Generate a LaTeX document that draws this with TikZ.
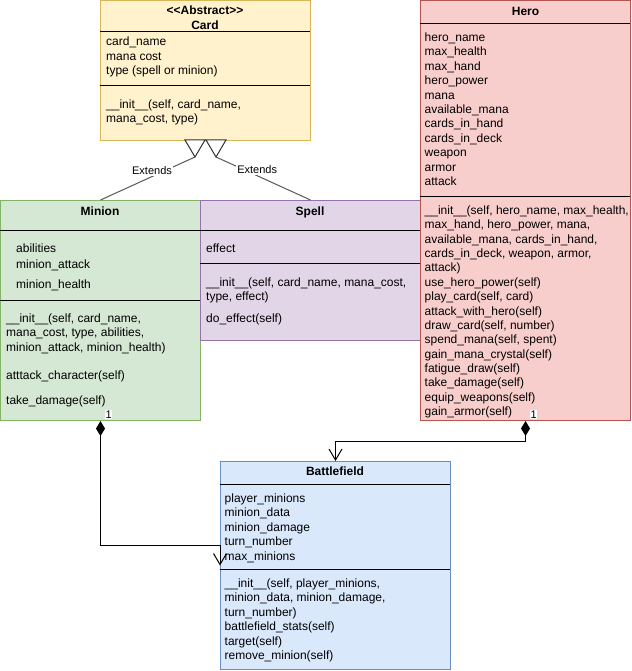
\documentclass[tikz,border=0pt]{standalone}
\usepackage{fontspec}
\setmainfont{Liberation Sans}
\usetikzlibrary{arrows.meta}
\definecolor{cardF}{HTML}{FFF2CC}\definecolor{cardD}{HTML}{D6B656}
\definecolor{minF}{HTML}{D5E8D4}\definecolor{minD}{HTML}{82B366}
\definecolor{spF}{HTML}{E1D5E7}\definecolor{spD}{HTML}{9673A6}
\definecolor{heroF}{HTML}{F8CECC}\definecolor{heroD}{HTML}{B85450}
\definecolor{bfF}{HTML}{DAE8FC}\definecolor{bfD}{HTML}{6C8EBF}
\definecolor{inhC}{HTML}{595959}
\newcommand\tlines[4]{\foreach \t [count=\i from 0] in {#4} {\node[txt] at (#1,{#2+\i*#3}) {\t};}}
\begin{document}
\begin{tikzpicture}[x=1pt,y=-1pt,
  box/.style={draw, line width=1pt, rectangle, anchor=north west, inner sep=0pt},
  div/.style={draw=black, line width=1pt},
  txt/.style={anchor=base west, inner sep=0pt, font=\fontsize{12}{14.4}\selectfont},
  ttl/.style={anchor=base, inner sep=0pt, font=\fontsize{12}{14.4}\selectfont\bfseries},
  lbl/.style={fill=white, inner sep=1pt, font=\fontsize{11}{13}\selectfont},
  one/.style={fill=white, inner sep=0.5pt, font=\fontsize{11}{13}\selectfont, anchor=south west, xshift=4pt, yshift=2pt},
  inh/.style={draw=inhC, line width=1pt},
  inhtri/.style={draw=black!80, fill=white, line width=1pt, line join=miter},
  comp/.style={draw=black, line width=1pt, {Diamond[length=15pt,width=9pt]}-{Straight Barb[length=11pt,width=13pt]}}
]
\useasboundingbox (0,0) rectangle (631,671);
\fill[white] (0,0) rectangle (631,671);

% boxes
\node[box, fill=cardF, draw=cardD, minimum width=210pt, minimum height=140pt] (card) at (100,0) {};
\node[box, fill=minF, draw=minD, minimum width=200pt, minimum height=220pt] (minion) at (0,200) {};
\node[box, fill=spF, draw=spD, minimum width=220pt, minimum height=140pt] (spell) at (200,200) {};
\node[box, fill=heroF, draw=heroD, minimum width=210pt, minimum height=420pt] (hero) at (420,0) {};
\node[box, fill=bfF, draw=bfD, minimum width=230pt, minimum height=208pt] (bf) at (220,461) {};

% dividers
\draw[div] (100,32) -- (310,32);
\draw[div] (100,86) -- (310,86);
\draw[div] (0,230) -- (200,230);
\draw[div] (0,300) -- (200,300);
\draw[div] (200,230) -- (420,230);
\draw[div] (200,263) -- (420,263);
\draw[div] (420,24) -- (630,24);
\draw[div] (420,196) -- (630,196);
\draw[div] (220,484) -- (450,484);
\draw[div] (220,569) -- (450,569);

% Card
\node[ttl] at (205,15) {\mbox{<}\mbox{<}Abstract\mbox{>}\mbox{>}};
\node[ttl] at (205,30) {Card};
\tlines{106}{46}{14.4}{card\_name, mana cost, type (spell or minion)}
\tlines{106}{108.5}{14.4}{{\_\_init\_\_(self, card\_name,}, {mana\_cost, type)}}

% Minion
\node[ttl] at (100,215) {Minion};
\node[txt] at (16,252) {abilities};
\node[txt] at (16,268.5) {minion\_attack};
\node[txt] at (16,288.5) {minion\_health};
\tlines{6}{322.5}{14.4}{{\_\_init\_\_(self, card\_name,}, {mana\_cost, type, abilities,}, {minion\_attack, minion\_health)}}
\node[txt] at (6,379.5) {atttack\_character(self)};
\node[txt] at (6,404.5) {take\_damage(self)};

% Spell
\node[ttl] at (310,215) {Spell};
\node[txt] at (206,252) {effect};
\tlines{206}{286}{14.4}{{\_\_init\_\_(self, card\_name, mana\_cost,}, {type, effect)}}
\node[txt] at (206,322.5) {do\_effect(self)};

% Hero
\node[ttl] at (525.5,15.5) {Hero};
\tlines{424.5}{41.5}{14.4}{hero\_name, max\_health, max\_hand, hero\_power, mana, available\_mana, cards\_in\_hand, cards\_in\_deck, weapon, armor, attack}
\tlines{424.5}{214.5}{14.36}{{\_\_init\_\_(self, hero\_name, max\_health,}, {max\_hand, hero\_power, mana,}, {available\_mana, cards\_in\_hand,}, {cards\_in\_deck, weapon, armor,}, attack), use\_hero\_power(self), {play\_card(self, card)}, attack\_with\_hero(self), {draw\_card(self, number)}, {spend\_mana(self, spent)}, gain\_mana\_crystal(self), fatigue\_draw(self), take\_damage(self), equip\_weapons(self), gain\_armor(self)}

% Battlefield
\node[ttl] at (335,475) {Battlefield};
\tlines{224.5}{502.5}{14.4}{player\_minions, minion\_data, minion\_damage, turn\_number, max\_minions}
\tlines{224.5}{587.5}{14.4}{{\_\_init\_\_(self, player\_minions,}, {minion\_data, minion\_damage,}, turn\_number), battlefield\_stats(self), target(self), remove\_minion(self)}

% inheritance
\coordinate (tA) at (195,157);
\coordinate (tB) at (216,157);
\draw[inh] (minion.north) -- node[lbl, pos=0.545, yshift=6pt] {Extends} (tA);
\draw[inh] (spell.north) -- node[lbl, pos=0.564, yshift=6pt] {Extends} (tB);
\draw[inhtri] (185,140) -- (205,140) -- (tA) -- cycle;
\draw[inhtri] (206,140) -- (226,140) -- (tB) -- cycle;

% composition
\draw[comp] (minion.south) node[one] {1} |- ([yshift=20pt]bf.west) -- (bf.west);
\draw[comp] (hero.south) node[one] {1} -- ++(0,20) -| (bf.north);
\end{tikzpicture}
\end{document}
